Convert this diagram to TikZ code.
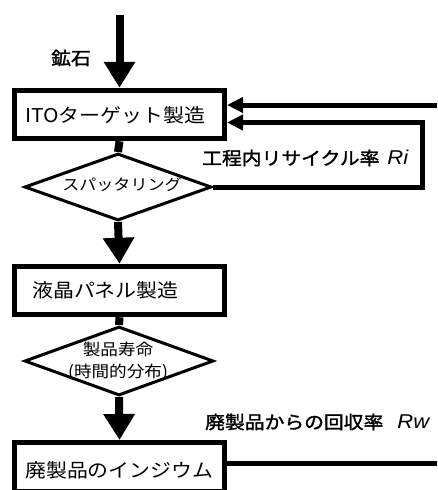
\documentclass[tikz,border=0pt]{standalone}
\usepackage{fontspec}
\setmainfont[FakeStretch=1.1]{Noto Sans CJK JP}
\newfontfamily\jpbold[FakeStretch=1.1,FakeBold=1.6]{Noto Sans CJK JP}
\newfontfamily\lat[FakeStretch=1.1]{Liberation Sans}
\usetikzlibrary{arrows.meta,shapes.geometric}
\begin{document}
\begin{tikzpicture}[x=1pt,y=-1pt,line join=miter,
  box/.style={draw, line width=5pt, minimum width=210pt, minimum height=48.5pt, inner sep=0pt},
  dia/.style={diamond, draw, line width=3pt, inner sep=0pt},
  btext/.style={inner sep=0pt, anchor=west, font=\fontsize{19}{22}\selectfont},
  dtext/.style={inner sep=0pt, align=center},
  lbl/.style={inner sep=0pt, font=\fontsize{18}{22}\jpbold\selectfont},
  flow/.style={line width=8pt, -{Triangle[width=30pt,length=26pt]}},
  stub/.style={line width=8pt},
  fb/.style={line width=5pt, -{Triangle[width=15pt,length=16pt]}},
  ret/.style={line width=5pt}]
\useasboundingbox (0,0) rectangle (437,490);
\clip (0,0) rectangle (437,490);

% boxes
\node[box] (b1) at (119.5,114.5) {};
\node[box] (b2) at (119.5,290.5) {};
\node[box] (b3) at (119.5,466.75) {};
\node[btext] (t1) at (25,115) {ITOターゲット製造};
\node[btext] (t2) at (32,290) {液晶パネル製造};
\node[btext] (t3) at (25,470) {廃製品のインジウム};

% diamonds
\node[dia, minimum width=187pt, minimum height=67pt] (d1) at (118,187) {};
\node[dia, minimum width=189pt, minimum height=69pt] (d2) at (119,361) {};
\node[dtext, font=\fontsize{15.5}{18}\selectfont] (t4) at (122,185) {スパッタリング};
\node[dtext, font=\fontsize{16}{22}\selectfont] (t5) at (118,361) {製品寿命\\(時間的分布)};

% main flow
\coordinate (in) at (119.5,15);
\draw[flow] (in) -- (b1.north);
\draw[stub] (b1.south) -- (d1.north);
\draw[flow] (d1.south) -- (b2.north);
\draw[stub] (b2.south) -- (d2.north);
\draw[flow] (d2.south) -- (b3.north);

% feedback
\coordinate (r1) at (437,105);
\draw[fb] (r1) -- (r1 -| b1.east);
\coordinate (c2) at (422.5,122.5);
\draw[fb] (d1.east) -| (c2) -- (c2 -| b1.east);
\coordinate (r3) at (437,463);
\draw[ret] (b3.east |- r3) -- (r3);

% labels
\node[lbl] (l1) at (71,58) {鉱石};
\node[lbl, anchor=west] (l2) at (202,158) {工程内リサイクル率\hspace{8pt}{\lat\itshape\fontsize{20}{22}\selectfont Ri}};
\node[lbl, anchor=west] (l3) at (205,422) {廃製品からの回収率\hspace{14pt}{\lat\itshape\fontsize{20}{22}\selectfont Rw}};
\end{tikzpicture}
\end{document}
